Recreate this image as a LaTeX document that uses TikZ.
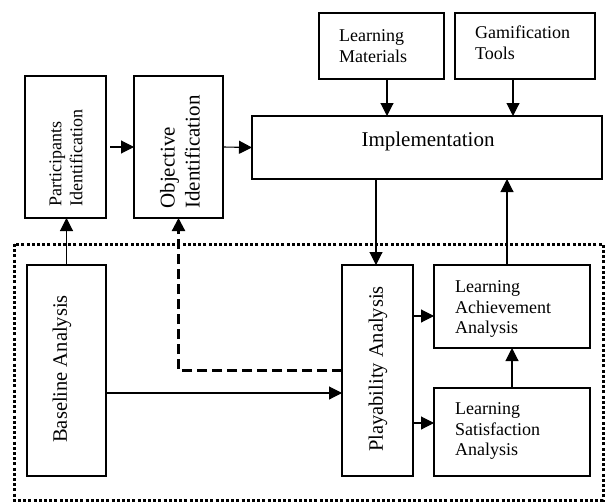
\documentclass[tikz,border=0pt]{standalone}
\usepackage{fontspec}
\setmainfont{Liberation Serif}
\usetikzlibrary{arrows.meta}
\begin{document}
\begin{tikzpicture}[x=1pt,y=-1pt,
  box/.style={draw, line width=1.4pt, inner sep=0pt, outer sep=0pt, anchor=north west},
  conn/.style={line width=1.1pt, -{Triangle[length=13pt,width=13pt]}},
  dconn/.style={conn, line width=2.2pt, dash pattern=on 10pt off 5pt},
  lblS/.style={inner sep=0pt, align=left, font=\fontsize{18}{21}\selectfont, anchor=west},
  vlbl/.style={inner sep=0pt, align=left, rotate=90}
]
\useasboundingbox (0,0) rectangle (612,503);
% dotted group frame
\draw[line width=3pt, dash pattern=on 3pt off 2.2pt] (14,244) rectangle (603,500);
% boxes
\node[box, minimum width=81pt, minimum height=142pt] (pid) at (25,76) {};
\node[box, minimum width=89pt, minimum height=142pt] (oid) at (134,76) {};
\node[box, minimum width=350pt, minimum height=63pt] (impl) at (252,116) {};
\node[box, minimum width=125pt, minimum height=66pt] (lm) at (319,13) {};
\node[box, minimum width=140pt, minimum height=66pt] (gt) at (455,13) {};
\node[box, minimum width=79pt, minimum height=211pt] (bl) at (27,265) {};
\node[box, minimum width=71pt, minimum height=211pt] (play) at (342,265) {};
\node[box, minimum width=156pt, minimum height=83pt] (la) at (434,265) {};
\node[box, minimum width=156pt, minimum height=88pt] (ls) at (434,388) {};
% labels
\node[vlbl, font=\fontsize{18}{21}\selectfont] (pidt) at (66,158) {Participants\\Identification};
\node[vlbl, font=\fontsize{21}{25}\selectfont] (oidt) at (180,152) {Objective\\Identification};
\node[vlbl, font=\fontsize{20.5}{24}\selectfont] (blt) at (62,369) {Baseline Analysis};
\node[vlbl, font=\fontsize{20.5}{24}\selectfont] (playt) at (378,369) {Playability Analysis};
\node[inner sep=0pt, font=\fontsize{21}{25}\selectfont] (implt) at (428,141) {Implementation};
\node[lblS] (lmt) at (339,46) {Learning\\Materials};
\node[lblS] (gtt) at (475,43) {Gamification\\Tools};
\node[lblS, font=\fontsize{18}{20.5}\selectfont] (lat) at (455,309) {Learning\\Achievement\\Analysis};
\node[lblS, font=\fontsize{18}{20.5}\selectfont] (lst) at (455,431) {Learning\\Satisfaction\\Analysis};
% connectors
\coordinate (lmx) at ([xshift=5.5pt]lm.south);
\coordinate (gtx) at ([xshift=-12pt]gt.south);
\draw[conn] (lmx) -- (lmx |- impl.north);
\draw[conn] (gtx) -- (gtx |- impl.north);
\draw[conn] ([xshift=4pt]pid.east) -- (oid.west);
\draw[conn] (oid.east) -- (impl.west);
\draw[conn] (bl.north) -- (bl.north |- pid.south);
\draw[dconn] (play.west) -| (oid.south);
\coordinate (blx) at ([yshift=-22.5pt]bl.east);
\draw[conn] (blx) -- (blx -| play.west);
\coordinate (px) at ([xshift=-1.5pt]play.north);
\draw[conn] (px |- impl.south) -- (px);
\coordinate (lax) at ([xshift=-5pt]la.north);
\draw[conn] (lax) -- (lax |- impl.south);
\coordinate (p1) at ([yshift=-9.5pt]la.west);
\coordinate (p2) at ([yshift=9pt]ls.west);
\draw[conn] (p1 -| play.east) -- (p1);
\draw[conn] (p2 -| play.east) -- (p2);
\draw[conn] (ls.north) -- (la.south);
\end{tikzpicture}
\end{document}
